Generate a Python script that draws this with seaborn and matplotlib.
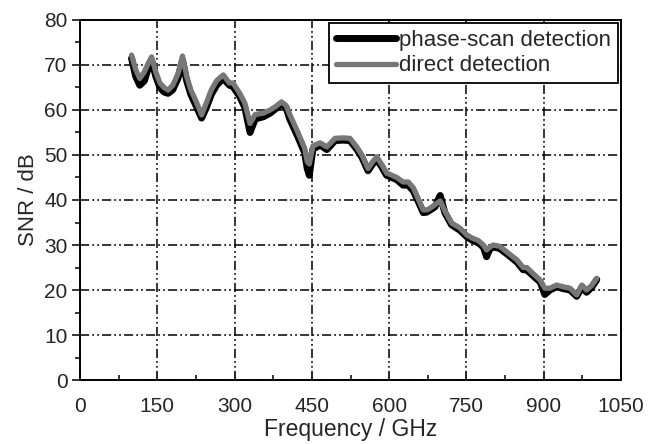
import numpy as np
import pandas as pd
import matplotlib
matplotlib.use("Agg")
import matplotlib.pyplot as plt
from matplotlib.ticker import MultipleLocator
import seaborn as sns

freq = [100, 108, 116, 125, 133, 139, 147, 155, 163, 171, 180, 190, 199, 207, 215, 225, 236, 245, 255, 265, 278,
        290, 297, 310, 320, 330, 340, 356, 369, 380, 391, 400, 407, 415, 423, 436, 441, 445, 452, 466, 479, 495,
        510, 524, 537, 547, 559, 568, 576, 585, 595, 605, 615, 627, 637, 647, 660, 666, 673, 680, 689, 699, 708,
        721, 737, 751, 762, 773, 783, 789, 795, 802, 815, 831, 848, 860, 867, 879, 893, 902, 912, 925, 938, 951,
        964, 974, 983, 993, 1003]

direct = [72.2, 69.0, 67.0, 68.5, 70.5, 71.8, 68.5, 66.0, 65.0, 64.4, 65.5, 68.0, 72.0, 67.5, 64.5, 62.0, 58.9, 61.5, 64.5, 66.5, 67.8,
          66.0, 66.0, 63.7, 61.5, 57.0, 59.0, 59.3, 60.0, 60.8, 61.8, 61.0, 59.0, 57.0, 55.0, 51.5, 48.5, 48.0, 52.0, 52.7, 51.8, 53.7,
          53.8, 53.7, 51.8, 50.0, 47.0, 48.5, 49.6, 48.0, 46.0, 45.5, 45.0, 44.0, 44.0, 42.7, 39.3, 37.8, 37.8, 38.2, 39.0, 39.8, 37.6,
          34.9, 33.8, 32.2, 31.5, 31.0, 30.0, 28.9, 29.5, 30.0, 29.7, 28.2, 26.7, 25.0, 25.0, 23.7, 22.2, 20.4, 20.4, 21.1, 20.7, 20.4,
          18.9, 21.1, 20.0, 21.0, 22.6]

phase = [71.5, 67.5, 65.5, 66.5, 69.5, 71.0, 67.5, 65.0, 64.0, 63.7, 64.5, 67.0, 71.0, 66.5, 63.5, 61.0, 58.2, 60.5, 63.5, 65.5, 67.0,
         65.5, 65.2, 63.0, 60.5, 55.0, 58.0, 58.5, 59.3, 60.3, 61.3, 60.5, 58.0, 56.0, 54.0, 50.5, 47.0, 45.5, 51.3, 52.2, 51.2, 53.2,
         53.3, 53.2, 51.3, 49.5, 46.5, 48.0, 49.0, 47.5, 45.5, 45.0, 44.5, 43.3, 43.3, 42.0, 38.8, 37.2, 37.3, 37.8, 38.5, 41.0, 37.2,
         34.5, 33.3, 31.8, 31.0, 30.5, 29.5, 27.4, 29.0, 29.6, 29.2, 27.8, 26.2, 24.5, 24.5, 23.2, 21.8, 19.0, 20.0, 20.7, 20.3, 20.0,
         18.6, 20.6, 19.5, 20.6, 22.3]

series_names = ["phase-scan detection", "direct detection"]
x_ticks = [0, 150, 300, 450, 600, 750, 900, 1050]
y_ticks = [0, 10, 20, 30, 40, 50, 60, 70, 80]

sns.set_style("white")
plt.rcParams["font.family"] = ["Liberation Sans", "DejaVu Sans"]

fig = plt.figure(figsize=(6.52, 4.44), dpi=100)
ax = fig.add_axes([0.1227, 0.1441, 0.8298, 0.8109])

df = pd.DataFrame({"Frequency": freq + freq,
                   "SNR": phase + direct,
                   "series": [series_names[0]] * len(freq) + [series_names[1]] * len(freq)})

sns.lineplot(data=df[df.series == series_names[0]], x="Frequency", y="SNR", ax=ax,
             color="black", linewidth=5.0, label=series_names[0], zorder=3)
sns.lineplot(data=df[df.series == series_names[1]], x="Frequency", y="SNR", ax=ax,
             color="#777777", linewidth=3.8, label=series_names[1], zorder=4)

ax.set_xlim(0, 1050)
ax.set_ylim(0, 80)
ax.set_xticks(x_ticks)
ax.set_yticks(y_ticks)
ax.xaxis.set_minor_locator(MultipleLocator(75))
ax.yaxis.set_minor_locator(MultipleLocator(5))
ax.tick_params(axis="x", which="both", direction="in", bottom=True, top=False, labelsize=15, width=1.3, pad=12)
ax.tick_params(axis="x", which="major", length=6)
ax.tick_params(axis="x", which="minor", length=3.5)
ax.tick_params(axis="y", which="both", direction="out", left=True, right=False, labelsize=15, width=1.3, pad=3)
ax.tick_params(axis="y", which="major", length=6)
ax.tick_params(axis="y", which="minor", length=3.5)

ax.grid(True, which="major", color="black", linewidth=1.1, linestyle=(0, (6, 2, 1.2, 2, 1.2, 2)))
ax.set_axisbelow(True)
for s in ax.spines.values():
    s.set_visible(True)
    s.set_color("black")
    s.set_linewidth(1.4)

ax.set_xlabel("Frequency / GHz", fontsize=16.5, labelpad=2)
ax.set_ylabel("SNR / dB", fontsize=16, labelpad=4)

leg = ax.legend(loc="upper right", fontsize=16, frameon=True, fancybox=False, edgecolor="black",
                handlelength=2.7, handletextpad=0.15, borderpad=0.3, labelspacing=0.2,
                borderaxespad=0.15)
leg.get_frame().set_linewidth(1.3)
leg.get_frame().set_alpha(1)

fig.savefig("out.png", dpi=100)
